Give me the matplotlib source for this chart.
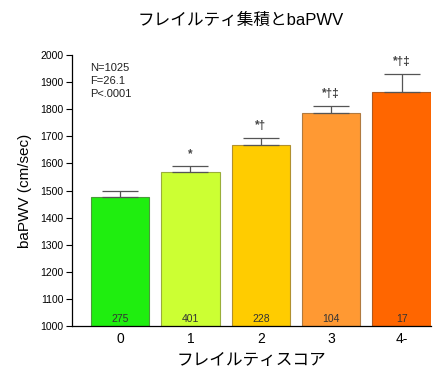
import matplotlib
matplotlib.use("Agg")
import matplotlib.pyplot as plt
import numpy as np

plt.rcParams['font.family'] = ['Liberation Sans', 'Noto Sans CJK JP', 'DejaVu Sans']

# frailty score groups and mean baPWV with SE
scores = ['0', '1', '2', '3', '4-']
pwv_mean = [1476, 1569, 1669, 1785, 1862]
pwv_err = [21, 20, 25, 28, 69]
counts = [275, 401, 228, 104, 17]
marks = ['', '*', '*†', '*†‡', '*†‡']
colors = ['#1fee0f', '#ccff33', '#ffcc00', '#ff9933', '#ff6600']
edges = ['#4a9a3a', '#9aae3a', '#b09030', '#b07a40', '#b05a20']

fig = plt.figure(figsize=(4.46, 3.74), dpi=100)
ax = fig.add_axes([0.161, 0.128, 0.805, 0.725])

x = np.arange(len(scores))
ax.bar(x, [m - 1000 for m in pwv_mean], bottom=1000, width=0.83,
       color=colors, edgecolor=edges, linewidth=0.8, zorder=2)
ax.errorbar(x, pwv_mean, yerr=[np.zeros(len(x)), pwv_err], fmt='none',
            ecolor='#555555', elinewidth=0.9, capsize=13, capthick=0.9, zorder=3)

for i in range(len(x)):
    ax.text(x[i], 1008, str(counts[i]), ha='center', va='bottom',
            fontsize=7.5, color='#333333', zorder=4)
    if marks[i]:
        ax.text(x[i], pwv_mean[i] + pwv_err[i] + 22, marks[i], ha='center',
                va='bottom', fontsize=8.5, color='#444444', fontweight='bold')

ax.text(0.05, 0.97, 'N=1025\nF=26.1\nP<.0001', transform=ax.transAxes,
        ha='left', va='top', fontsize=8, linespacing=1.35, color='#222222')

ax.set_xlim(-0.686, 4.415)
ax.set_ylim(1000, 2000)
ax.set_yticks(np.arange(1000, 2001, 100))
ax.tick_params(axis='y', labelsize=7.5, length=4, width=0.8, direction='out', pad=2)
ax.set_xticks(x)
ax.set_xticklabels(scores)
ax.tick_params(axis='x', labelsize=10, length=0, pad=4)
for s in ['top', 'right']:
    ax.spines[s].set_visible(False)
ax.spines['left'].set_linewidth(0.9)
ax.spines['bottom'].set_linewidth(0.9)

ax.set_ylabel('baPWV (cm/sec)', fontsize=11, labelpad=6)
ax.set_xlabel('フレイルティスコア', fontsize=12, labelpad=5)
fig.text(0.54, 0.945, 'フレイルティ集積とbaPWV', ha='center', va='center', fontsize=12)

fig.savefig('out.png', dpi=100)
